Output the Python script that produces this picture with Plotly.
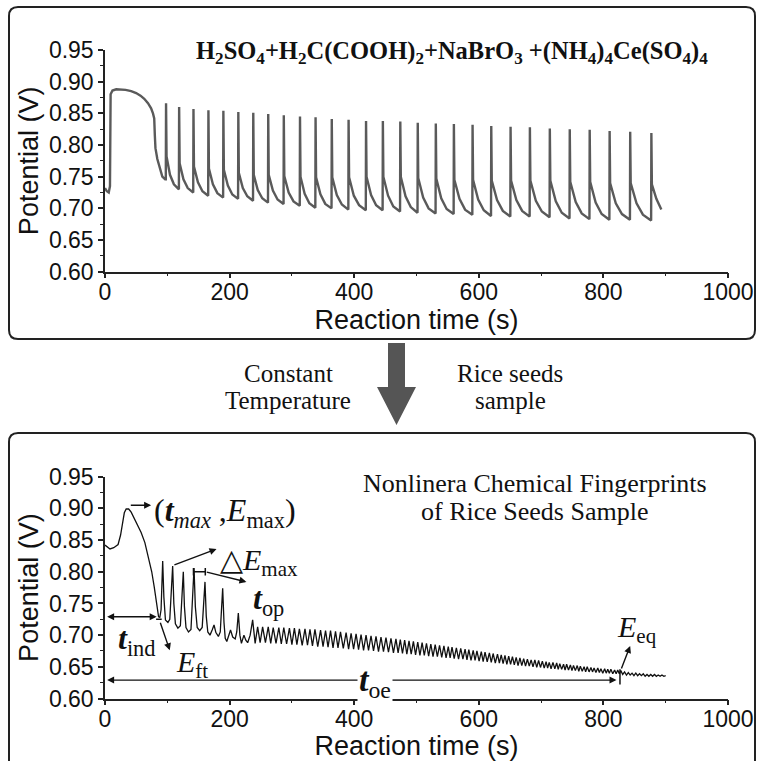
import plotly.graph_objects as go

W, H = 758, 761
SANS = "Liberation Sans, Arial, sans-serif"
SERIF = "Liberation Serif, Times New Roman, serif"

# ---------------- top panel data ----------------
top_start_t = [0, 3, 6, 8, 9, 12, 18, 25, 33, 42, 50, 57, 63, 69, 74, 77, 79, 80, 81, 84, 88, 92, 96.5]
top_start_E = [0.732, 0.727, 0.725, 0.735, 0.880, 0.886, 0.888, 0.888, 0.887, 0.885, 0.882, 0.878,
               0.873, 0.866, 0.858, 0.850, 0.842, 0.815, 0.795, 0.778, 0.762, 0.750, 0.746]
top_peak_t = [98, 119, 142, 166, 190, 214, 238, 262, 287, 313, 338, 364, 391, 419, 446,
              474, 502, 531, 560, 590, 620, 651, 682, 714, 746, 778, 810, 843, 877]
top_peak_E = [0.866, 0.860, 0.857, 0.855, 0.854, 0.852, 0.851, 0.849, 0.847, 0.845, 0.844, 0.841,
              0.840, 0.838, 0.838, 0.837, 0.835, 0.834, 0.833, 0.832, 0.830, 0.829, 0.828, 0.826,
              0.825, 0.824, 0.822, 0.821, 0.819]
top_trough_E = [0.746, 0.730, 0.725, 0.720, 0.717, 0.715, 0.712, 0.709, 0.707, 0.704, 0.701, 0.700,
                0.698, 0.697, 0.697, 0.695, 0.693, 0.692, 0.691, 0.690, 0.688, 0.687, 0.687, 0.686,
                0.684, 0.683, 0.682, 0.682, 0.681]
top_knee_E = [0.782, 0.771, 0.766, 0.763, 0.761, 0.756, 0.753, 0.753, 0.751, 0.750, 0.749, 0.749,
              0.749, 0.750, 0.750, 0.750, 0.748, 0.747, 0.745, 0.745, 0.744, 0.744, 0.744, 0.744,
              0.742, 0.742, 0.740, 0.740, 0.738]
top_mid1_E = [0.753, 0.746, 0.741, 0.738, 0.736, 0.732, 0.729, 0.728, 0.725, 0.723, 0.722, 0.721,
              0.720, 0.721, 0.720, 0.719, 0.717, 0.716, 0.715, 0.714, 0.713, 0.713, 0.712, 0.711,
              0.710, 0.709, 0.708, 0.708]
top_mid2_E = [0.738, 0.732, 0.727, 0.724, 0.722, 0.719, 0.716, 0.714, 0.711, 0.708, 0.707, 0.706,
              0.705, 0.705, 0.703, 0.702, 0.700, 0.699, 0.698, 0.697, 0.696, 0.696, 0.695, 0.693,
              0.692, 0.691, 0.691, 0.690]
top_end_t = [885, 893]
top_end_E = [0.715, 0.698]

# ---------------- bottom panel data ----------------
bot_start_t = [0, 3, 8, 14, 21, 25, 28, 31, 34, 38, 42, 46, 52, 58, 64, 70, 75, 79, 83, 86, 88, 90,
               92.6, 94.5, 97, 101, 104, 108.6, 110.5, 113, 117, 121, 125.7, 127.5, 130, 134, 138,
               142.9, 145, 148, 152, 156, 160.5, 162.5, 165, 168.5, 172, 175, 178, 182, 185, 188.9,
               191, 193, 195.5, 199, 201.5, 205, 209, 211.5, 214, 216.5, 219, 223, 226, 229, 233,
               237, 239.5, 241]
bot_start_E = [0.842, 0.840, 0.836, 0.838, 0.843, 0.858, 0.878, 0.893, 0.899, 0.899, 0.894, 0.886,
               0.874, 0.862, 0.846, 0.822, 0.800, 0.776, 0.750, 0.729, 0.728, 0.740,
               0.817, 0.760, 0.724, 0.720, 0.725, 0.809, 0.750, 0.718, 0.711, 0.715, 0.800, 0.745,
               0.712, 0.705, 0.709, 0.806, 0.745, 0.712, 0.707, 0.712, 0.784, 0.730, 0.705, 0.700,
               0.708, 0.716, 0.704, 0.698, 0.705, 0.774, 0.720, 0.695, 0.690, 0.700, 0.708, 0.697,
               0.694, 0.705, 0.735, 0.700, 0.687, 0.700, 0.692, 0.688, 0.700, 0.724, 0.695, 0.687]
bot_osc_t = [245, 253, 262, 270, 279, 287, 296, 304, 312, 321, 329, 337, 346, 354, 362, 370, 378,
             387, 395, 403, 411, 419, 427, 435, 443, 451, 459,
             467, 474, 481, 488, 495, 502, 509, 516, 523, 530, 537, 544, 551, 557, 564, 571, 578,
             584, 591, 597, 604, 610, 617, 623, 630, 636,
             642, 648, 654, 660, 666, 672, 678, 684, 690, 696, 702, 708, 713, 719, 725, 730, 736,
             741, 747, 752, 758, 763, 769, 774, 780, 785, 791, 796, 802, 807, 812, 818, 823, 828,
             834, 840, 846, 852, 858, 864, 870, 876, 882, 888, 894]
bot_osc_peak_E = [0.713, 0.713, 0.713, 0.712, 0.712, 0.712, 0.711, 0.711, 0.710, 0.710, 0.709, 0.709,
                  0.708, 0.707, 0.707, 0.706, 0.705, 0.704, 0.703, 0.702, 0.701, 0.700, 0.699, 0.698,
                  0.697, 0.696, 0.695,
                  0.694, 0.693, 0.692, 0.691, 0.690, 0.689, 0.688, 0.687, 0.686, 0.685, 0.684, 0.683,
                  0.682, 0.681, 0.680, 0.679, 0.678, 0.677, 0.676, 0.675, 0.674, 0.673, 0.672, 0.671,
                  0.670, 0.669,
                  0.668, 0.667, 0.666, 0.665, 0.664, 0.663, 0.662, 0.661, 0.661, 0.660, 0.659, 0.658,
                  0.657, 0.657, 0.656, 0.655, 0.654, 0.654, 0.653, 0.652, 0.652, 0.651, 0.650, 0.650,
                  0.649, 0.648, 0.648, 0.647, 0.647, 0.646, 0.646, 0.645, 0.645, 0.644,
                  0.642, 0.641, 0.640, 0.640, 0.639, 0.639, 0.638, 0.638, 0.638, 0.637, 0.637]
bot_osc_trough_E = [0.688, 0.688, 0.687, 0.687, 0.686, 0.686, 0.685, 0.685, 0.684, 0.684, 0.683, 0.682,
                    0.682, 0.681, 0.680, 0.680, 0.679, 0.678, 0.678, 0.677, 0.676, 0.676, 0.675, 0.674,
                    0.674, 0.673, 0.672,
                    0.672, 0.671, 0.670, 0.670, 0.669, 0.668, 0.668, 0.667, 0.666, 0.666, 0.665, 0.664,
                    0.664, 0.663, 0.662, 0.662, 0.661, 0.660, 0.660, 0.659, 0.658, 0.658, 0.657, 0.656,
                    0.656, 0.655,
                    0.654, 0.654, 0.653, 0.652, 0.652, 0.651, 0.651, 0.650, 0.649, 0.649, 0.648, 0.648,
                    0.647, 0.647, 0.646, 0.646, 0.645, 0.645, 0.644, 0.644, 0.643, 0.643, 0.642, 0.642,
                    0.642, 0.641, 0.641, 0.640, 0.640, 0.640, 0.639, 0.639, 0.639, 0.638,
                    0.637, 0.637, 0.636, 0.636, 0.636, 0.635, 0.635, 0.635, 0.635, 0.635, 0.635]
bot_end_t = [900]
bot_end_E = [0.636]

# ---------------- build traces ----------------
tx, ty = list(top_start_t), list(top_start_E)
n = len(top_peak_t)
for i in range(n):
    tp = top_peak_t[i]
    tx += [tp - 0.4, tp, tp + 0.8]
    ty += [top_trough_E[i], top_peak_E[i], top_knee_E[i]]
    if i < n - 1:
        P = top_peak_t[i + 1] - tp
        tx += [tp + 0.3 * P, tp + 0.6 * P]
        ty += [top_mid1_E[i], top_mid2_E[i]]
tx += top_end_t
ty += top_end_E

bx, by = list(bot_start_t), list(bot_start_E)
m = len(bot_osc_t)
for i in range(m):
    tp = bot_osc_t[i]
    nxt = bot_osc_t[i + 1] if i < m - 1 else tp + 6
    bx += [tp, (tp + nxt) / 2]
    by += [bot_osc_peak_E[i], bot_osc_trough_E[i]]
bx += bot_end_t
by += bot_end_E

fig = go.Figure()
fig.add_trace(go.Scatter(x=tx, y=ty, mode="lines", line=dict(color="#5a5a5a", width=2.4),
                         xaxis="x", yaxis="y", showlegend=False, hoverinfo="skip"))
fig.add_trace(go.Scatter(x=bx, y=by, mode="lines", line=dict(color="#111111", width=1.3),
                         xaxis="x2", yaxis="y2", showlegend=False, hoverinfo="skip"))


def px(x):
    return x / W


def py(y):
    return 1 - y / H


xdom = [px(105), px(728)]
axis_common = dict(showline=True, linecolor="#222", linewidth=1.5, ticks="outside", ticklen=5,
                   tickwidth=1.5, tickcolor="#222", showgrid=False, zeroline=False, mirror=False,
                   automargin=False, tickfont=dict(family=SANS, size=23, color="#111"))
xcommon = dict(axis_common, range=[0, 1000], dtick=200, tick0=0, ticklabelstandoff=-6,
               minor=dict(dtick=100, ticks="outside", ticklen=3, tickcolor="#222", tickwidth=1.2),
               title=dict(text="Reaction time (s)", font=dict(family=SANS, size=27, color="#111"), standoff=3))
ycommon = dict(axis_common, range=[0.60, 0.95], dtick=0.05, tick0=0.60, tickformat=".2f",
               minor=dict(dtick=0.025, ticks="outside", ticklen=3, tickcolor="#222", tickwidth=1.2),
               title=dict(text="Potential (V)", font=dict(family=SANS, size=27, color="#111"), standoff=2))

fig.update_layout(
    width=W, height=H, margin=dict(l=0, r=0, t=0, b=0, autoexpand=False),
    paper_bgcolor="white", plot_bgcolor="white", showlegend=False,
    xaxis=dict(xcommon, domain=xdom, anchor="y"),
    yaxis=dict(ycommon, domain=[py(271.7), py(50)], anchor="x"),
    xaxis2=dict(xcommon, domain=xdom, anchor="y2"),
    yaxis2=dict(ycommon, domain=[py(698.5), py(476.7)], anchor="x2"),
)


def rounded_box(x0, y0, x1, y1, r):
    return (f"M {px(x0 + r)},{py(y0)} L {px(x1 - r)},{py(y0)} Q {px(x1)},{py(y0)} {px(x1)},{py(y0 + r)} "
            f"L {px(x1)},{py(y1 - r)} Q {px(x1)},{py(y1)} {px(x1 - r)},{py(y1)} "
            f"L {px(x0 + r)},{py(y1)} Q {px(x0)},{py(y1)} {px(x0)},{py(y1 - r)} "
            f"L {px(x0)},{py(y0 + r)} Q {px(x0)},{py(y0)} {px(x0 + r)},{py(y0)} Z")


shapes = [
    dict(type="path", xref="paper", yref="paper", path=rounded_box(9, 7, 755, 339, 9),
         line=dict(color="#222", width=2)),
    dict(type="path", xref="paper", yref="paper", path=rounded_box(9, 433, 755, 790, 9),
         line=dict(color="#222", width=2)),
    # big down arrow between panels
    dict(type="path", xref="paper", yref="paper",
         path=(f"M {px(388)},{py(343)} L {px(405)},{py(343)} L {px(405)},{py(387)} L {px(416)},{py(387)} "
               f"L {px(396.5)},{py(425)} L {px(377)},{py(387)} L {px(388)},{py(387)} Z"),
         fillcolor="#555", line=dict(width=0)),
    # t_op bar
    dict(type="line", xref="x2", yref="y2", x0=142, x1=161, y0=0.800, y1=0.800, line=dict(color="#111", width=1.5)),
    dict(type="line", xref="x2", yref="y2", x0=142, x1=142, y0=0.794, y1=0.806, line=dict(color="#111", width=1.5)),
    dict(type="line", xref="x2", yref="y2", x0=161, x1=161, y0=0.794, y1=0.806, line=dict(color="#111", width=1.5)),
    # E_ft tick
    dict(type="line", xref="x2", yref="y2", x0=82, x1=91, y0=0.725, y1=0.725, line=dict(color="#111", width=1.5)),
    # t_oe end bar
    dict(type="line", xref="x2", yref="y2", x0=826.6, x1=826.6, y0=0.622, y1=0.646, line=dict(color="#111", width=1.5)),
]
fig.update_layout(shapes=shapes)

ARW = dict(showarrow=True, arrowhead=2, arrowsize=1, arrowwidth=1.4, arrowcolor="#111",
           xref="x2", yref="y2", axref="x2", ayref="y2", text="")
ann = [
    dict(ARW, x=74, y=0.905, ax=39, ay=0.905),                       # -> (t_max, E_max)
    dict(ARW, x=179, y=0.836, ax=109, ay=0.810),                     # Delta E_max
    dict(ARW, x=227, y=0.784, ax=161, ay=0.800),                     # t_op
    dict(ARW, x=83, y=0.729, ax=1, ay=0.729, arrowside="end+start", startarrowhead=2),   # t_ind
    dict(ARW, x=104, y=0.676, ax=88, ay=0.722),                      # E_ft
    dict(ARW, x=843, y=0.683, ax=828, ay=0.645),                     # E_eq
    dict(ARW, x=821, y=0.629, ax=1, ay=0.629, arrowside="end+start", startarrowhead=2),  # t_oe
]


def lab(x, y, text, size, xanchor="center", ref="2", bg=None):
    d = dict(x=x, y=y, xref="x" + ref, yref="y" + ref, text=text, showarrow=False,
             xanchor=xanchor, yanchor="middle", font=dict(family=SERIF, size=size, color="#111"))
    if bg:
        d["bgcolor"] = bg
    return d


ann += [
    lab(75, 0.894, "(<b><i>t</i></b><sub><i>max</i></sub> ,<i>E</i><sub>max</sub>)", 32, "left"),
    lab(182, 0.816, "△<i>E</i><sub>max</sub>", 30, "left"),
    lab(235, 0.755, "<b><i>t</i></b><sub>op</sub>", 32, "left"),
    lab(18, 0.692, "<b><i>t</i></b><sub>ind</sub>", 32, "left"),
    lab(110, 0.654, "<i>E</i><sub>ft</sub>", 30, "left"),
    lab(819, 0.710, "<i>E</i><sub>eq</sub>", 30, "left"),
    lab(434, 0.6265, "<b><i>t</i></b><sub>oe</sub>", 34, "center", bg="white"),
    lab(690, 0.9394, "Nonlinera Chemical Fingerprints", 26),
    lab(690, 0.8946, "of Rice Seeds Sample", 26),
    lab(557.6, 0.946, "<b>H<sub>2</sub>SO<sub>4</sub>+H<sub>2</sub>C(COOH)<sub>2</sub>+NaBrO<sub>3</sub> +"
        "(NH<sub>4</sub>)<sub>4</sub>Ce(SO<sub>4</sub>)<sub>4</sub></b>", 24.5, "center", ref=""),
]

for txt, x, y in [("Constant", 288, 374), ("Temperature", 288, 400), ("Rice seeds", 510, 374), ("sample", 510, 400)]:
    ann.append(dict(x=px(x), y=py(y), xref="paper", yref="paper", text=txt, showarrow=False,
                    xanchor="center", yanchor="middle", font=dict(family=SERIF, size=25, color="#111")))

fig.update_layout(annotations=ann)
fig.write_html("out.html", config={"displayModeBar": False},
               post_script="document.body.style.margin='0px';document.body.style.overflow='hidden';")
